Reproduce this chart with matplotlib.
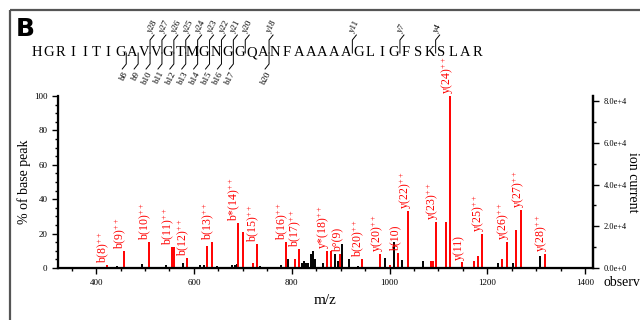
import matplotlib
matplotlib.use('Agg')
import matplotlib.pyplot as plt
import matplotlib.transforms as mtransforms
from matplotlib.ticker import MultipleLocator
import numpy as np

plt.rcParams['font.family'] = ['Liberation Serif', 'DejaVu Serif']
plt.rcParams['mathtext.fontset'] = 'custom'
plt.rcParams['mathtext.rm'] = 'Liberation Serif'
plt.rcParams['mathtext.it'] = 'Liberation Serif:italic'

# peptide and fragment coverage
sequence = "HGRIITIGAVVGTMGNGGQANFAAAAAGLIGFSKSLAR"
b_ions = [8, 9, 10, 11, 12, 13, 14, 15, 16, 17, 20]
y_ions = [28, 27, 26, 25, 24, 23, 22, 21, 20, 18, 11, 7, 4]

# matched peaks (red)
match_mz = [422, 457, 508, 555, 559, 586, 627, 637, 690, 700, 721, 729, 789, 807,
            815, 872, 881, 899, 944, 981, 1001, 1018, 1038, 1085, 1088, 1095, 1116,
            1124, 1148, 1173, 1181, 1189, 1230, 1240, 1259, 1269, 1318]
match_int = [1.5, 10, 15, 12, 12, 6, 13, 15, 26, 21, 3, 14, 15, 5,
             11, 10, 10, 8, 5, 8, 1.5, 9, 33, 4, 4, 27, 27,
             100, 3.5, 4, 7, 20, 5, 15, 22, 34, 8]
match_ion = ['b(8)', 'b(9)', 'b(10)', 'b(11)', '', 'b(12)', '', 'b(13)', 'b*(14)', '', '', 'b(15)', 'b(16)', '',
             'b(17)', 'y*(18)', '', 'b°(9)', 'b(20)', 'y(20)', '', 'b(10)', 'y(22)', '', '', 'y(23)', '',
             'y(24)', 'y(11)', '', '', 'y(25)', '', 'y(26)', '', 'y(27)', 'y(28)']
match_charge = [2, 2, 2, 2, 0, 2, 0, 2, 2, 0, 0, 2, 2, 0,
                2, 2, 0, 1, 2, 2, 0, 1, 2, 0, 0, 2, 0,
                2, 1, 0, 0, 2, 0, 2, 0, 2, 2]

# unmatched peaks (black)
other_mz = [443, 494, 543, 578, 613, 621, 647, 678, 684, 688, 735, 778, 793, 821,
            825, 829, 834, 840, 844, 848, 864, 889, 895, 903, 917, 936, 991, 1009,
            1026, 1069, 1222, 1253, 1308]
other_int = [1, 2.5, 1.5, 3, 2, 1.5, 1, 2, 2, 2.5, 1, 2, 5, 3,
             4, 3, 3, 8, 10, 5, 3, 8, 4, 14, 5, 1, 6, 15,
             4.5, 4, 3, 3, 7]

base_current = 8.25e4

fig = plt.figure(figsize=(6.4, 3.2), dpi=100)
W, H = 640, 320

# header overlay in pixel units
ov = fig.add_axes([0, 0, 1, 1])
ov.set_xlim(0, W)
ov.set_ylim(H, 0)
ov.axis('off')
ov.plot([10, W], [10, 10], color='#555555', lw=1.6, solid_capstyle='butt')
ov.plot([10, 10], [10, H], color='#555555', lw=1.6, solid_capstyle='butt')
ov.text(16, 29, 'B', fontsize=18, fontweight='bold', family='DejaVu Sans', va='center', ha='left')

x0, step, ymid = 37, 11.9, 53
for i, aa in enumerate(sequence):
    ov.text(x0 + i * step, ymid, aa, fontsize=10.5, ha='center', va='center')

n = len(sequence)
for k in y_ions:
    x = x0 + (n - k - 0.5) * step
    ov.plot([x, x, x + 4], [ymid, 40, 35], color='k', lw=0.7)
    ov.text(x + 3, 34, 'y%d' % k, fontsize=6.5, rotation=62, ha='left', va='bottom',
            rotation_mode='anchor')
for k in b_ions:
    x = x0 + (k - 0.5) * step
    ov.plot([x, x, x - 4], [ymid, 64, 69], color='k', lw=0.7)
    ov.text(x - 3, 70, 'b%d' % k, fontsize=6.5, rotation=62, ha='right', va='top',
            rotation_mode='anchor')

# spectrum
ax = fig.add_axes([58 / W, 1 - 268 / H, (593 - 58) / W, (268 - 96) / H])
ax.set_xlim(322, 1416)
ax.set_ylim(0, 100)
ax.vlines(other_mz, 0, other_int, colors='black', lw=1.4)
ax.vlines(match_mz, 0, match_int, colors='red', lw=1.4)

shift = mtransforms.offset_copy(ax.transData, fig=fig, x=-3, y=2, units='dots')
for mz, h, ion, z in zip(match_mz, match_int, match_ion, match_charge):
    if not ion:
        continue
    lab = ion + (r'$^{++}$' if z == 2 else '')
    ax.text(mz, h, lab, rotation=90, ha='center', va='bottom', color='red',
            fontsize=8.5, transform=shift, clip_on=False)

ax.spines['top'].set_visible(False)
for s in ['left', 'bottom', 'right']:
    ax.spines[s].set_linewidth(1.6)

ax.set_xticks([400, 600, 800, 1000, 1200, 1400])
ax.xaxis.set_minor_locator(MultipleLocator(50))
ax.set_yticks([0, 20, 40, 60, 80, 100])
ax.yaxis.set_minor_locator(MultipleLocator(5))
ax.tick_params(axis='both', which='major', labelsize=6.5, length=4, width=1)
ax.tick_params(axis='both', which='minor', length=2.5, width=1)
ax.tick_params(axis='x', pad=4)
ax.set_xlabel('m/z', fontsize=11, labelpad=5)
ax.set_ylabel('% of base peak', fontsize=10, labelpad=2)

ax2 = ax.twinx()
ax2.set_ylim(0, base_current)
ax2.spines['top'].set_visible(False)
ax2.spines['right'].set_linewidth(1.6)
ax2.set_yticks([0, 2e4, 4e4, 6e4, 8e4])
ax2.set_yticklabels(['0.0e+0', '2.0e+4', '4.0e+4', '6.0e+4', '8.0e+4'])
ax2.yaxis.set_minor_locator(MultipleLocator(1e4))
ax2.tick_params(axis='y', which='major', labelsize=6, length=4, width=1)
ax2.tick_params(axis='y', which='minor', length=2.5, width=1)
ax2.set_ylabel('ion current', fontsize=10, rotation=-90, labelpad=9)

fig.text(603 / W, 1 - 283 / H, 'observed', fontsize=10, ha='left', va='center')

fig.savefig('out.png', dpi=100)
